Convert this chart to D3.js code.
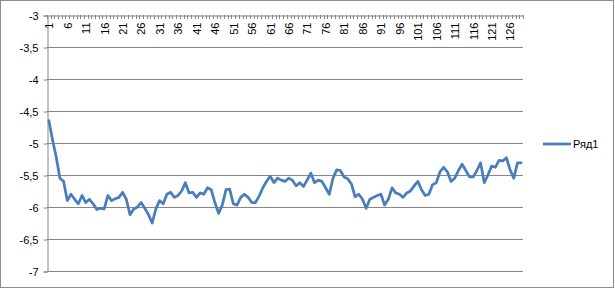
<!DOCTYPE html>
<html><head><meta charset="utf-8">
<script src="https://cdn.jsdelivr.net/npm/d3@7"></script>
<style>body{margin:0;background:#fff}svg{display:block}</style>
</head><body>
<script>
const seriesName = "Ряд1";
const values = [
-4.65,-4.95,-5.22,-5.55,-5.6,-5.9,-5.8,-5.88,-5.95,-5.82,
-5.93,-5.88,-5.95,-6.04,-6.02,-6.03,-5.82,-5.9,-5.87,-5.85,
-5.77,-5.88,-6.12,-6.03,-6.0,-5.93,-6.02,-6.12,-6.25,-6.03,
-5.9,-5.95,-5.8,-5.77,-5.85,-5.82,-5.75,-5.62,-5.78,-5.77,
-5.85,-5.78,-5.8,-5.7,-5.73,-5.93,-6.1,-5.97,-5.73,-5.72,
-5.95,-5.97,-5.85,-5.8,-5.85,-5.93,-5.93,-5.83,-5.7,-5.6,
-5.52,-5.62,-5.55,-5.58,-5.6,-5.55,-5.58,-5.67,-5.62,-5.68,
-5.58,-5.47,-5.62,-5.58,-5.6,-5.7,-5.8,-5.55,-5.42,-5.43,
-5.53,-5.56,-5.64,-5.84,-5.8,-5.88,-6.02,-5.88,-5.85,-5.82,
-5.8,-5.97,-5.88,-5.7,-5.78,-5.8,-5.85,-5.78,-5.75,-5.67,
-5.6,-5.73,-5.82,-5.8,-5.65,-5.62,-5.45,-5.38,-5.45,-5.6,
-5.55,-5.43,-5.33,-5.43,-5.53,-5.53,-5.43,-5.31,-5.62,-5.5,
-5.36,-5.38,-5.27,-5.28,-5.23,-5.42,-5.55,-5.31,-5.31
];
const categories = values.map((d, i) => String(i + 1));
const yTicks = [-3, -3.5, -4, -4.5, -5, -5.5, -6, -6.5, -7];
const yTickLabels = ["-3", "-3,5", "-4", "-4,5", "-5", "-5,5", "-6", "-6,5", "-7"];

(function () {
const W = 615, H = 289;
const pL = 47, pR = 523, pT = 15, pB = 271;
const svg = d3.select("body").append("svg").attr("width", W).attr("height", H);
const font = "'Liberation Sans', Arial, sans-serif";

svg.append("rect").attr("x", 0.5).attr("y", 0.5).attr("width", W - 2).attr("height", H - 2)
  .attr("fill", "#fff").attr("stroke", "#8c8c8c");

const x = d3.scaleBand().domain(categories).range([pL, pR]).padding(0);
const y = d3.scaleLinear().domain([-7, -3]).range([pB, pT]);

// gridlines
svg.append("g").selectAll("line").data(yTicks.filter(t => t !== -3)).join("line")
  .attr("x1", pL).attr("x2", pR)
  .attr("y1", d => Math.round(y(d)) + 0.5).attr("y2", d => Math.round(y(d)) + 0.5)
  .attr("stroke", "#868686").attr("stroke-width", 1);

// y axis
const yAxis = d3.axisLeft(y).tickValues(yTicks).tickSize(4).tickPadding(5)
  .tickFormat((d, i) => yTickLabels[i]);
const gy = svg.append("g").attr("transform", `translate(${pL + 0.5},0.5)`).call(yAxis);
gy.select(".domain").attr("stroke", "#868686");
gy.selectAll(".tick line").attr("stroke", "#868686");
gy.selectAll(".tick text").attr("font-family", font).attr("font-size", 11).attr("fill", "#000");

// x axis at top (value -3)
const xAxis = d3.axisBottom(x).tickSize(0).tickFormat((d, i) => (i % 5 === 0 ? d : ""));
const gx = svg.append("g").attr("transform", `translate(0.5,${Math.round(y(-3)) + 0.5})`).call(xAxis);
gx.select(".domain").attr("stroke", "#868686");
gx.selectAll(".tick text")
  .attr("font-family", font).attr("font-size", 11).attr("fill", "#000")
  .attr("transform", "rotate(-90)")
  .attr("text-anchor", "end").attr("x", -7).attr("y", 0).attr("dy", "0.35em");
// tick marks between categories
const bounds = d3.range(categories.length + 1).map(i => pL + i * x.bandwidth());
svg.append("g").selectAll("line").data(bounds).join("line")
  .attr("x1", d => Math.round(d) + 0.5).attr("x2", d => Math.round(d) + 0.5)
  .attr("y1", pT).attr("y2", pT + 4)
  .attr("stroke", "#868686");

// line
const line = d3.line().x((d, i) => x(categories[i]) + x.bandwidth() / 2).y(d => y(d));
svg.append("path").datum(values).attr("d", line)
  .attr("fill", "none").attr("stroke", "#4a7ebb").attr("stroke-width", 2.75)
  .attr("stroke-linejoin", "round").attr("stroke-linecap", "round");

// legend
svg.append("line").attr("x1", 543).attr("x2", 571).attr("y1", 144).attr("y2", 144)
  .attr("stroke", "#4a7ebb").attr("stroke-width", 2.75);
svg.append("text").attr("x", 573).attr("y", 148).text(seriesName)
  .attr("font-family", font).attr("font-size", 11).attr("fill", "#000");
})();
</script>
</body></html>
